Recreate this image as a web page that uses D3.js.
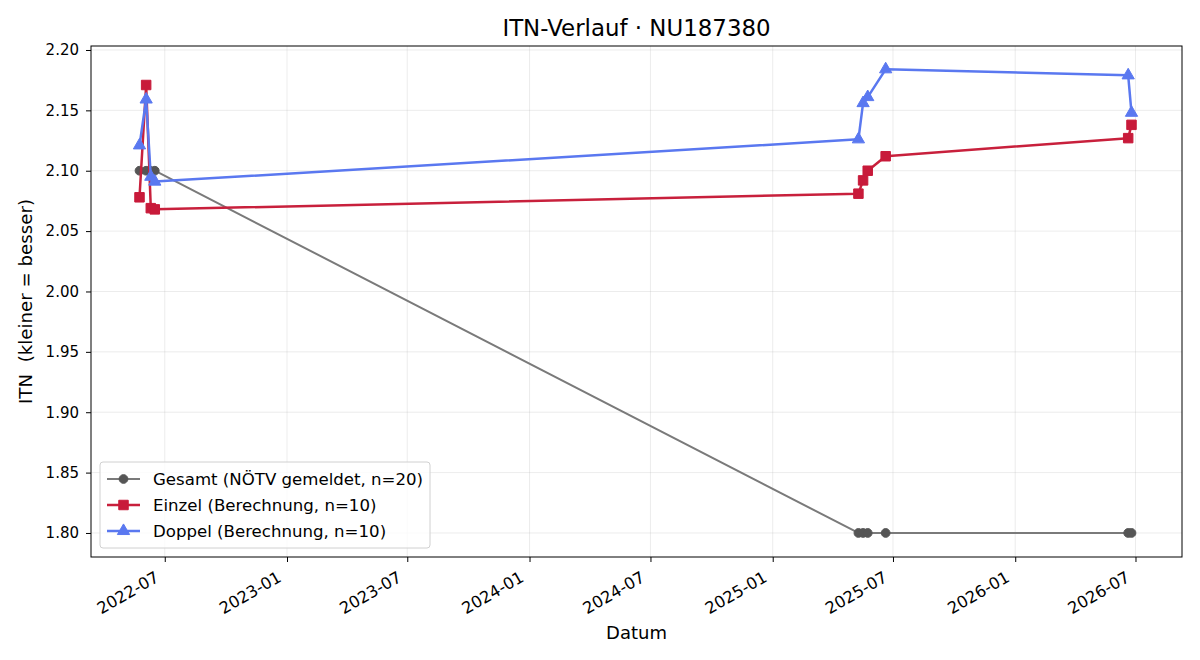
<!DOCTYPE html>
<html><head><meta charset="utf-8">
<script src="https://cdn.jsdelivr.net/npm/d3@7"></script>
<style>body{margin:0;background:#fff;} text{font-family:"DejaVu Sans",sans-serif;white-space:pre;}</style>
</head><body>
<svg id="c" width="1200" height="660"></svg>
<script>
const gesamtDates = ["2022-05-24","2022-06-03","2022-06-09","2022-06-16","2025-05-10","2025-05-17","2025-05-24","2025-06-20","2026-06-20","2026-06-25"];
const gesamtValues = [2.10,2.10,2.10,2.10,1.80,1.80,1.80,1.80,1.80,1.80];
const einzelDates = ["2022-05-24","2022-06-03","2022-06-10","2022-06-16","2025-05-10","2025-05-17","2025-05-24","2025-06-20","2026-06-20","2026-06-25"];
const einzelValues = [2.078,2.171,2.069,2.068,2.081,2.092,2.100,2.112,2.127,2.138];
const doppelDates = ["2022-05-24","2022-06-03","2022-06-10","2022-06-16","2025-05-10","2025-05-17","2025-05-24","2025-06-20","2026-06-20","2026-06-25"];
const doppelValues = [2.121,2.159,2.095,2.091,2.126,2.156,2.161,2.184,2.179,2.148];
const xTickLabels = ["2022-07","2023-01","2023-07","2024-01","2024-07","2025-01","2025-07","2026-01","2026-07"];
const yTickValues = [1.80,1.85,1.90,1.95,2.00,2.05,2.10,2.15,2.20];
const seriesNames = ["Gesamt (NÖTV gemeldet, n=20)","Einzel (Berechnung, n=10)","Doppel (Berechnung, n=10)"];
const title = "ITN-Verlauf · NU187380";

const parse = d3.utcParse("%Y-%m-%d");
const parseM = d3.utcParse("%Y-%m");
const svg = d3.select("#c");
const L=91, R=1182, T=46, B=557;
const x = d3.scaleUtc().domain([parse("2022-03-12"), parse("2026-09-09")]).range([L,R]);
const y = d3.scaleLinear().domain([1.7801, 2.2033]).range([B,T]);

// grid
const g = svg.append("g");
xTickLabels.forEach(t=>{
  const px = x(parseM(t));
  g.append("line").attr("x1",px).attr("x2",px).attr("y1",T).attr("y2",B).attr("stroke","#b0b0b0").attr("stroke-opacity",0.3).attr("stroke-width",0.8);
});
yTickValues.forEach(v=>{
  const py=y(v);
  g.append("line").attr("x1",L).attr("x2",R).attr("y1",py).attr("y2",py).attr("stroke","#b0b0b0").attr("stroke-opacity",0.3).attr("stroke-width",0.8);
});

// axes
const xAxis = d3.axisBottom(x).tickValues(xTickLabels.map(parseM)).tickFormat(d3.utcFormat("%Y-%m")).tickSize(5).tickPadding(3);
const xg = svg.append("g").attr("transform",`translate(0,${B})`).call(xAxis);
xg.select(".domain").remove();
xg.selectAll("line").attr("stroke","#000");
xg.selectAll("text").attr("font-size",16.3).attr("fill","#000")
  .attr("text-anchor","end").attr("dy",null).attr("y",null)
  .attr("transform","translate(-5,23.5) rotate(-30)");
const yAxis = d3.axisLeft(y).tickValues(yTickValues).tickFormat(d3.format(".2f")).tickSize(5).tickPadding(7);
const yg = svg.append("g").attr("transform",`translate(${L},0)`).call(yAxis);
yg.select(".domain").remove();
yg.selectAll("line").attr("stroke","#000");
yg.selectAll("text").attr("font-size",15).attr("fill","#000");
svg.append("rect").attr("x",L).attr("y",T).attr("width",R-L).attr("height",B-T).attr("fill","none").attr("stroke","#000").attr("stroke-width",1);

// series
function series(dates, vals, color, width, marker, msize, mfill){
  const data = dates.map((d,i)=>({d:parse(d),v:vals[i]}));
  const line = d3.line().x(p=>x(p.d)).y(p=>y(p.v));
  svg.append("path").datum(data).attr("d",line).attr("fill","none").attr("stroke",color).attr("stroke-width",width).attr("stroke-linejoin","round");
  const sym = d3.symbol().type(marker).size(msize);
  svg.append("g").selectAll("path").data(data).join("path")
    .attr("transform",p=>`translate(${x(p.d)},${y(p.v)})`)
    .attr("d",sym).attr("fill",mfill).attr("stroke",mfill).attr("stroke-width",1);
  return {color,width,sym,mfill};
}
const s1 = series(gesamtDates,gesamtValues,"#7a7a7a",2,d3.symbolCircle,60,"#555555");
const s2 = series(einzelDates,einzelValues,"#c8203c",2.5,d3.symbolSquare,90,"#c81a3a");
const s3 = series(doppelDates,doppelValues,"#5a78f0",2.5,d3.symbolTriangle,65,"#5a78f0");

// legend
const lg = svg.append("g");
lg.append("rect").attr("x",100).attr("y",462).attr("width",330).attr("height",86).attr("rx",3).attr("fill","#fff").attr("fill-opacity",0.8).attr("stroke","#d0d0d0");
[s1,s2,s3].forEach((s,i)=>{
  const yy = 479 + i*26;
  lg.append("line").attr("x1",107).attr("x2",140).attr("y1",yy).attr("y2",yy).attr("stroke",s.color).attr("stroke-width",s.width);
  lg.append("path").attr("transform",`translate(123.5,${yy})`).attr("d",s.sym).attr("fill",s.mfill).attr("stroke",s.mfill);
  lg.append("text").attr("x",153).attr("y",yy+6).attr("font-size",16.6).text(seriesNames[i]);
});

// titles
svg.append("text").attr("x",(L+R)/2).attr("y",35.5).attr("text-anchor","middle").attr("font-size",22.9).text(title);
svg.append("text").attr("x",(L+R)/2).attr("y",639).attr("text-anchor","middle").attr("font-size",18).text("Datum");
svg.append("text").attr("transform",`translate(32,${(T+B)/2}) rotate(-90)`).attr("text-anchor","middle").attr("font-size",18.2).text("ITN  (kleiner = besser)");
</script>
</body></html>
